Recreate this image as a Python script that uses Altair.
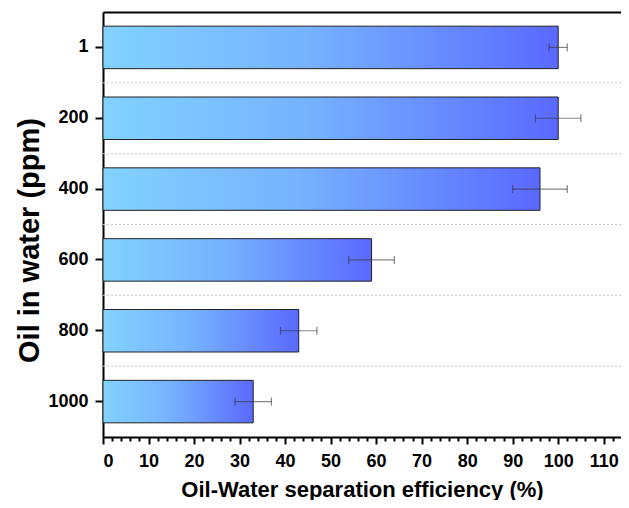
import altair as alt
import pandas as pd

# ---- data ----
categories = ["1", "200", "400", "600", "800", "1000"]
efficiency = [100, 100, 96, 59, 43, 33]
errors = [2, 5, 6, 5, 4, 4]
x_tick_values = list(range(0, 114, 2))

df = pd.DataFrame({"oil": categories, "eff": efficiency, "err": errors})
df["lo"] = df["eff"] - df["err"]
df["hi"] = df["eff"] + df["err"]
grid_df = pd.DataFrame({"oil": categories[:-1]})

FONT = "Liberation Sans"
xscale = alt.Scale(domain=[0, 113.8], nice=False, zero=True)
yscale = alt.Scale(domain=categories, paddingInner=0.4, paddingOuter=0.2)

grad = alt.Gradient(
    gradient="linear",
    stops=[alt.GradientStop(color="#82D2FF", offset=0),
           alt.GradientStop(color="#76B2FF", offset=0.45),
           alt.GradientStop(color="#5A69FF", offset=1)],
    x1=0, x2=1, y1=0, y2=0,
)

grid = alt.Chart(grid_df).mark_rule(
    color="#c8c8c8", strokeDash=[2, 2], strokeWidth=1, yOffset=14.2
).encode(y=alt.Y("oil:N", scale=yscale, bandPosition=1, axis=None))

bars = alt.Chart(df).mark_bar(fill=grad, stroke="#222222", strokeWidth=1).encode(
    x=alt.X("eff:Q", scale=xscale,
            axis=alt.Axis(
                title="Oil-Water separation efficiency (%)",
                values=x_tick_values,
                labelExpr="datum.value % 10 === 0 ? datum.label : ''",
                labelOverlap=False,
                tickSize={"condition": {"test": "datum.value % 10 === 0", "value": 7}, "value": 4},
                tickWidth=2,
                labelPadding=8,
                labelFontSize=18,
                titleFontSize=22,
                titlePadding=9,
                grid=False,
            )),
    y=alt.Y("oil:N", scale=yscale,
            axis=alt.Axis(
                title="Oil in water (ppm)",
                labelFontSize=18,
                titleFontSize=29,
                titleY=228,
                tickSize=8,
                tickWidth=2,
                labelPadding=7,
                titlePadding=3,
                grid=False,
            )),
)

whisker = alt.Chart(df).mark_rule(color="#333333", opacity=0.6, strokeWidth=1.2).encode(
    x=alt.X("lo:Q", scale=xscale, axis=None),
    x2="hi:Q",
    y=alt.Y("oil:N", scale=yscale, axis=None),
)

cap_lo = alt.Chart(df).mark_tick(color="#333333", opacity=0.6, size=8, thickness=1.2).encode(
    x=alt.X("lo:Q", scale=xscale,
            axis=alt.Axis(orient="top", labels=False, ticks=False, title=None,
                          domainWidth=2, domainColor="black", grid=False)),
    y=alt.Y("oil:N", scale=yscale, axis=None),
)

cap_hi = alt.Chart(df).mark_tick(color="#333333", opacity=0.6, size=8, thickness=1.2).encode(
    x=alt.X("hi:Q", scale=xscale, axis=None),
    y=alt.Y("oil:N", scale=yscale, axis=None),
)

chart = alt.layer(grid, bars, whisker, cap_lo, cap_hi).resolve_axis(
    x="independent", y="independent"
).properties(
    width=518,
    height=425,
    autosize=alt.AutoSizeParams(type="none"),
    padding={"left": 95, "top": 4, "right": 0, "bottom": 63},
).configure_axis(
    domainColor="black",
    domainWidth=2,
    tickColor="black",
    labelColor="black",
    titleColor="black",
    labelFont=FONT,
    titleFont=FONT,
    labelFontWeight="bold",
    titleFontWeight="bold",
).configure_view(stroke=None)

chart.save("out.html", embed_options={"renderer": "svg", "actions": False})
